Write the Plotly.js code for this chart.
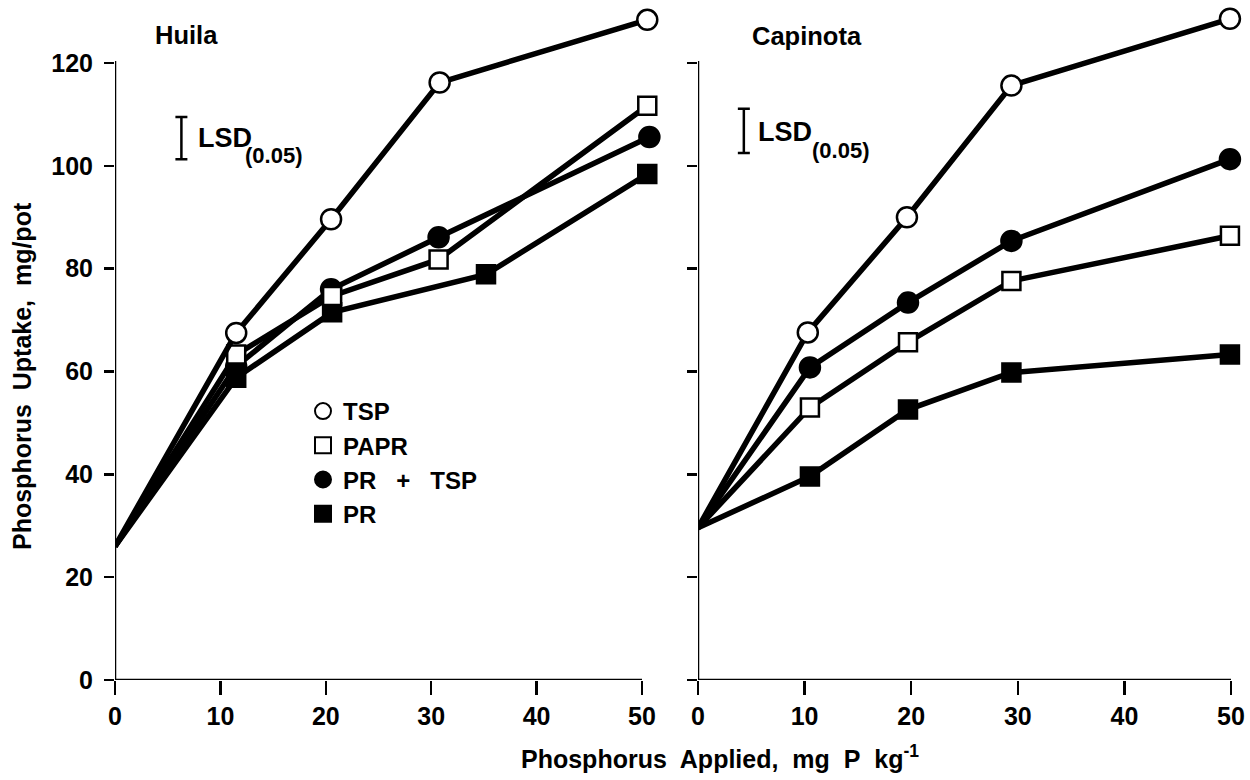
<!DOCTYPE html>
<html>
<head>
<meta charset="utf-8">
<script src="https://cdn.plot.ly/plotly-3.0.1.min.js"></script>
<style>html,body{margin:0;padding:0;background:#fff;}#chart{width:1250px;height:780px;}</style>
</head>
<body>
<div id="chart"></div>
<script>
// ---------- data ----------
const seriesNames = ['TSP', 'PAPR', 'PR + TSP', 'PR'];

// Huila (left panel)
const huilaTSPx   = [0, 11.5, 20.5, 30.8, 50.5];
const huilaTSPy   = [26, 67.5, 89.6, 116.2, 128.4];
const huilaPAPRx  = [0, 11.5, 20.6, 30.7, 50.5];
const huilaPAPRy  = [26, 63.3, 74.7, 81.8, 111.7];
const huilaPRTSPx = [0, 11.5, 20.5, 30.7, 50.7];
const huilaPRTSPy = [26, 61.0, 76.0, 86.1, 105.6];
const huilaPRx    = [0, 11.5, 20.6, 35.2, 50.5];
const huilaPRy    = [26, 58.8, 71.5, 78.9, 98.4];

// Capinota (right panel)
const capTSPx   = [0, 10.3, 19.6, 29.4, 49.9];
const capTSPy   = [29.6, 67.6, 90.0, 115.6, 128.6];
const capPRTSPx = [0, 10.5, 19.7, 29.4, 49.9];
const capPRTSPy = [29.6, 60.8, 73.4, 85.4, 101.3];
const capPAPRx  = [0, 10.5, 19.7, 29.4, 49.9];
const capPAPRy  = [29.6, 53.0, 65.7, 77.6, 86.4];
const capPRx    = [0, 10.5, 19.7, 29.4, 49.9];
const capPRy    = [29.6, 39.6, 52.6, 59.8, 63.3];

// LSD(0.05) values, mg/pot
const lsdHuila = 8.2;
const lsdCapinota = 8.6;

const xTickVals = [0, 10, 20, 30, 40, 50];
const yTickVals = [0, 20, 40, 60, 80, 100, 120];

// ---------- styling ----------
const FONT = 'Liberation Sans, Arial, sans-serif';
const symbols = {
  'TSP':      {symbol: 'circle', fill: '#ffffff'},
  'PAPR':     {symbol: 'square', fill: '#ffffff'},
  'PR + TSP': {symbol: 'circle', fill: '#000000'},
  'PR':       {symbol: 'square', fill: '#000000'}
};

function seriesTrace(name, x, y, xa, ya) {
  const s = symbols[name];
  return {
    type: 'scatter', mode: 'lines+markers', name: name,
    x: x, y: y, xaxis: xa, yaxis: ya, showlegend: false, cliponaxis: false,
    line: {color: '#000', width: 5.5},
    marker: {
      symbol: s.symbol, color: s.fill, opacity: 1,
      size: x.map((v, i) => i === 0 ? 0 : (s.symbol === 'square' ? 18 : 20)),
      line: {color: '#000', width: x.map((v, i) => i === 0 ? 0 : 2.5)}
    },
    hoverinfo: 'x+y+name'
  };
}

const traces = [
  seriesTrace('PR + TSP', huilaPRTSPx, huilaPRTSPy, 'x', 'y'),
  seriesTrace('PR', huilaPRx, huilaPRy, 'x', 'y'),
  seriesTrace('PAPR', huilaPAPRx, huilaPAPRy, 'x', 'y'),
  seriesTrace('TSP', huilaTSPx, huilaTSPy, 'x', 'y'),
  seriesTrace('PR', capPRx, capPRy, 'x2', 'y2'),
  seriesTrace('PAPR', capPAPRx, capPAPRy, 'x2', 'y2'),
  seriesTrace('PR + TSP', capPRTSPx, capPRTSPy, 'x2', 'y2'),
  seriesTrace('TSP', capTSPx, capTSPy, 'x2', 'y2')
];

// legend entries (marker only)
const legendLabels = {'TSP': 'TSP', 'PAPR': 'PAPR', 'PR + TSP': 'PR\u00a0\u00a0 +\u00a0\u00a0 TSP', 'PR': 'PR'};
seriesNames.forEach(n => {
  const s = symbols[n];
  traces.push({
    type: 'scatter', mode: 'markers', name: legendLabels[n], x: [null], y: [null],
    xaxis: 'x', yaxis: 'y', showlegend: true,
    marker: {symbol: s.symbol, color: s.fill, size: 16, opacity: 1, line: {color: '#000', width: 2}}
  });
});

// LSD bars
function lsdTrace(val, xc, yc, xa, ya) {
  return {
    type: 'scatter', mode: 'markers', x: [xc], y: [yc], xaxis: xa, yaxis: ya,
    showlegend: false, hoverinfo: 'skip',
    marker: {size: 1, opacity: 0},
    error_y: {type: 'data', array: [val / 2], visible: true, color: '#000', thickness: 2.5, width: 6}
  };
}
traces.push(lsdTrace(lsdHuila, 6.3, 105.4, 'x', 'y'));
traces.push(lsdTrace(lsdCapinota, 4.3, 106.8, 'x2', 'y2'));

const W = 1250, H = 780;
const px = v => v / W;
const py = v => (H - v) / H;

const axisCommon = {
  showgrid: false, zeroline: false, linecolor: '#000', linewidth: 2.5, showline: false,
  ticks: 'outside', tickcolor: '#000', tickwidth: 2.5,
  tickfont: {family: FONT, size: 25, color: '#000', weight: 'bold'}
};

// y = 0 at 680 px, 120 at 63 px; ranges extended so marks beyond the axis ends are not clipped
const yTop = 130;
const yPx = (680 - 63) / 120;
const yDomain = [py(680), py(680 - yTop * yPx)];
const xRight = 51.5;
const x1Px = (642 - 115) / 50;
const x2Px = (1231 - 698) / 50;

const layout = {
  width: W, height: H,
  margin: {l: 0, r: 0, t: 0, b: 0},
  paper_bgcolor: '#fff', plot_bgcolor: '#fff',
  showlegend: true,
  legend: {
    x: px(303), y: py(389), xanchor: 'left', yanchor: 'top',
    bgcolor: 'rgba(0,0,0,0)', borderwidth: 0,
    font: {family: FONT, size: 24, color: '#000', weight: 'bold'},
    traceorder: 'normal'
  },
  xaxis: Object.assign({}, axisCommon, {
    domain: [px(115), px(115 + xRight * x1Px)], range: [0, xRight], tickvals: xTickVals, ticklen: 14,
    anchor: 'y', ticklabelstandoff: 0
  }),
  yaxis: Object.assign({}, axisCommon, {
    domain: yDomain, range: [0, yTop], tickvals: yTickVals, ticklen: 10,
    anchor: 'x', ticklabelstandoff: 6
  }),
  xaxis2: Object.assign({}, axisCommon, {
    domain: [px(698), px(698 + xRight * x2Px)], range: [0, xRight], tickvals: xTickVals, ticklen: 14,
    anchor: 'y2', ticklabelstandoff: 0
  }),
  yaxis2: Object.assign({}, axisCommon, {
    domain: yDomain, range: [0, yTop], tickvals: yTickVals, ticklen: 10,
    anchor: 'x2', showticklabels: false
  }),
  shapes: [
    {type: 'line', xref: 'x', yref: 'y', x0: 0, x1: 0, y0: 0, y1: 120.4, layer: 'below',
     line: {color: '#000', width: 2.5}},
    {type: 'line', xref: 'x2', yref: 'y2', x0: 0, x1: 0, y0: 0, y1: 120.4, layer: 'below',
     line: {color: '#000', width: 2.5}},
    {type: 'line', xref: 'x', yref: 'y', x0: 0, x1: 50, y0: 0, y1: 0, layer: 'below',
     line: {color: '#000', width: 2.5}},
    {type: 'line', xref: 'x2', yref: 'y2', x0: 0, x1: 50, y0: 0, y1: 0, layer: 'below',
     line: {color: '#000', width: 2.5}}
  ],
  annotations: [
    {xref: 'paper', yref: 'paper', x: px(153), y: py(35), xanchor: 'left', yanchor: 'middle',
     text: 'Huila', showarrow: false, font: {family: FONT, size: 25.5, color: '#000', weight: 'bold'}},
    {xref: 'paper', yref: 'paper', x: px(750), y: py(36), xanchor: 'left', yanchor: 'middle',
     text: 'Capinota', showarrow: false, font: {family: FONT, size: 25.5, color: '#000', weight: 'bold'}},
    {xref: 'paper', yref: 'paper', x: px(196), y: py(138), xanchor: 'left', yanchor: 'middle',
     text: 'LSD', showarrow: false, font: {family: FONT, size: 27, color: '#000', weight: 'bold'}},
    {xref: 'paper', yref: 'paper', x: px(243), y: py(156), xanchor: 'left', yanchor: 'middle',
     text: '(0.05)', showarrow: false, font: {family: FONT, size: 22, color: '#000', weight: 'bold'}},
    {xref: 'paper', yref: 'paper', x: px(756), y: py(132), xanchor: 'left', yanchor: 'middle',
     text: 'LSD', showarrow: false, font: {family: FONT, size: 27, color: '#000', weight: 'bold'}},
    {xref: 'paper', yref: 'paper', x: px(810), y: py(150), xanchor: 'left', yanchor: 'middle',
     text: '(0.05)', showarrow: false, font: {family: FONT, size: 22, color: '#000', weight: 'bold'}},
    {xref: 'paper', yref: 'paper', x: px(22), y: py(376), xanchor: 'center', yanchor: 'middle', textangle: -90,
     text: 'Phosphorus\u00a0 Uptake,\u00a0 mg/pot', showarrow: false,
     font: {family: FONT, size: 25, color: '#000', weight: 'bold'}},
    {xref: 'paper', yref: 'paper', x: px(720), y: py(757), xanchor: 'center', yanchor: 'middle',
     text: 'Phosphorus\u00a0 Applied,\u00a0 mg\u00a0 P\u00a0 kg<sup>-1</sup>', showarrow: false,
     font: {family: FONT, size: 25, color: '#000', weight: 'bold'}}
  ]
};

Plotly.newPlot('chart', traces, layout, {displayModeBar: false, staticPlot: true});
</script>
</body>
</html>
